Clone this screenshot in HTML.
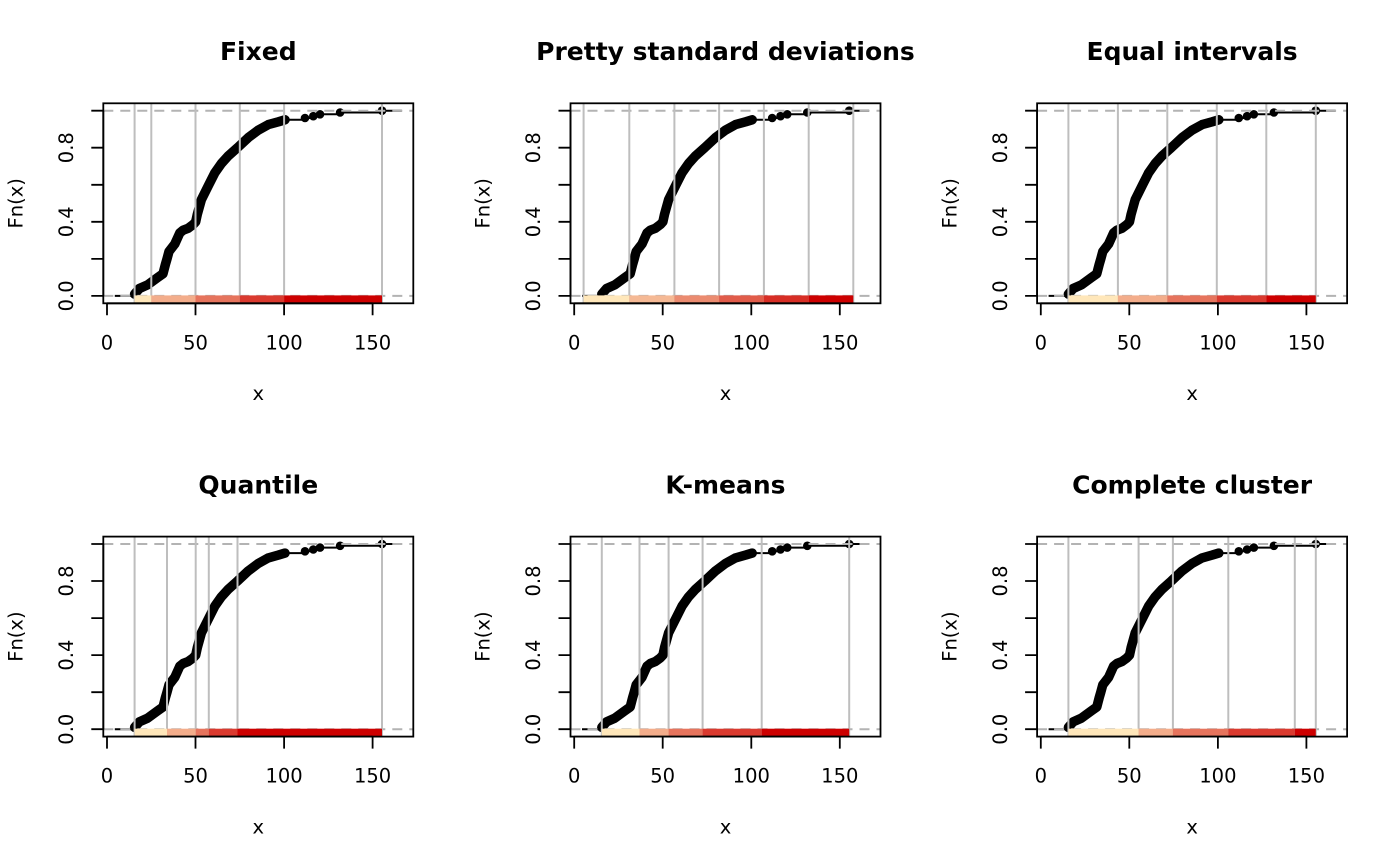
<!DOCTYPE html>
<html>
<head>
<meta charset="utf-8">
<style>
html,body{margin:0;padding:0;background:#fff;}
svg{display:block;}
text{font-family:"DejaVu Sans","Liberation Sans",sans-serif;fill:#000;}
.t{font-weight:bold;font-size:25px;}
.l{font-size:19.5px;}
</style>
</head>
<body>
<svg width="1400" height="866" viewBox="0 0 1400 866">
<rect x="0" y="0" width="1400" height="866" fill="#fff"/>
<defs>
<g id="curve">
  <path d="M114.8 295.9H134.6" stroke="#000" stroke-width="2" fill="none"/>
  <polyline points="134.6,294.1 139.4,288.5 147.7,284.8 157.8,277.4 163.0,273.7 165.4,264.4 167.0,258.9 169.0,251.5 174.8,244.0 179.8,232.9 183.1,230.2 188.1,228.3 193.1,224.6 195.7,221.8 197.3,214.4 201.4,199.6 208.8,184.8 214.9,172.7 221.4,163.5 228.1,156.1 237.5,147.7 248.3,137.6 258.2,130.2 268.3,124.6 278.4,121.8 285.0,119.8" stroke="#000" stroke-width="9.5" stroke-linejoin="round" stroke-linecap="round" fill="none"/>
  <path d="M285 119.8H305M305 118H313.3M313.3 116.2H320M320 114.3H340.1M340.1 112.5H382M382 110.7H401.8" stroke="#000" stroke-width="2" fill="none"/>
  <g fill="#000">
    <circle cx="134.6" cy="294.1" r="4.3"/>
    <circle cx="305" cy="118" r="4.3"/>
    <circle cx="313.3" cy="116.2" r="4.3"/>
    <circle cx="320" cy="114.3" r="4.3"/>
    <circle cx="340.1" cy="112.5" r="4.3"/>
    <circle cx="382" cy="110.7" r="4.3"/>
  </g>
</g>
<g id="dash">
  <path d="M103.3 295.9H413.3M103.3 110.7H413.3" stroke="#B3B3B3" stroke-width="2" stroke-dasharray="10 7" fill="none"/>
</g>
<g id="ax">
  <rect x="103.3" y="103.3" width="310" height="200" fill="none" stroke="#000" stroke-width="1.8"/>
  <path d="M107 303.3H372.6M107 303.3V315.3M195.5 303.3V315.3M284.1 303.3V315.3M372.6 303.3V315.3M103.3 295.9V110.7M103.3 295.9H91.3M103.3 258.9H91.3M103.3 221.8H91.3M103.3 184.8H91.3M103.3 147.7H91.3M103.3 110.7H91.3" stroke="#000" stroke-width="1.8" fill="none"/>
</g>
</defs>

<!-- Panel 1: Fixed -->
<g transform="translate(0,0)">
  <use href="#curve"/>
  <use href="#dash"/>
  <path d="M134.6 103.3V303.3M151.3 103.3V303.3M195.5 103.3V303.3M239.8 103.3V303.3M284.1 103.3V303.3M382 103.3V303.3" stroke="#BEBEBE" stroke-width="2" fill="none"/>
  <rect x="134.6" y="295.4" width="16.7" height="8" fill="#FFE7BA"/>
  <rect x="151.3" y="295.4" width="44.2" height="8" fill="#F3AD8B"/>
  <rect x="195.5" y="295.4" width="44.3" height="8" fill="#E6745D"/>
  <rect x="239.8" y="295.4" width="44.3" height="8" fill="#DA3A2F"/>
  <rect x="284.1" y="295.4" width="97.9" height="8" fill="#CD0000"/>
  <use href="#ax"/>
  <text class="t" x="258.3" y="60" text-anchor="middle">Fixed</text>
  <text class="l" x="107" y="349.3" text-anchor="middle">0</text>
  <text class="l" x="195.5" y="349.3" text-anchor="middle">50</text>
  <text class="l" x="284.1" y="349.3" text-anchor="middle">100</text>
  <text class="l" x="372.6" y="349.3" text-anchor="middle">150</text>
  <text class="l" x="258.3" y="400" text-anchor="middle">x</text>
  <text class="l" transform="translate(73,295.9) rotate(-90)" text-anchor="middle">0.0</text>
  <text class="l" transform="translate(73,221.8) rotate(-90)" text-anchor="middle">0.4</text>
  <text class="l" transform="translate(73,147.7) rotate(-90)" text-anchor="middle">0.8</text>
  <text class="l" transform="translate(22.5,203.3) rotate(-90)" text-anchor="middle">Fn(x)</text>
</g>

<!-- Panel 2: Pretty standard deviations -->
<g transform="translate(467.2,0)">
  <use href="#curve"/>
  <use href="#dash"/>
  <path d="M116.4 103.3V303.3M162.1 103.3V303.3M207.2 103.3V303.3M251.9 103.3V303.3M296.7 103.3V303.3M341.5 103.3V303.3M386.1 103.3V303.3" stroke="#BEBEBE" stroke-width="2" fill="none"/>
  <rect x="116.4" y="295.4" width="45.7" height="8" fill="#FFE7BA"/>
  <rect x="162.1" y="295.4" width="45.1" height="8" fill="#F5B995"/>
  <rect x="207.2" y="295.4" width="44.7" height="8" fill="#EB8B70"/>
  <rect x="251.9" y="295.4" width="44.8" height="8" fill="#E15C4A"/>
  <rect x="296.7" y="295.4" width="44.8" height="8" fill="#D72E25"/>
  <rect x="341.5" y="295.4" width="44.6" height="8" fill="#CD0000"/>
  <use href="#ax"/>
  <text class="t" x="258.3" y="60" text-anchor="middle">Pretty standard deviations</text>
  <text class="l" x="107" y="349.3" text-anchor="middle">0</text>
  <text class="l" x="195.5" y="349.3" text-anchor="middle">50</text>
  <text class="l" x="284.1" y="349.3" text-anchor="middle">100</text>
  <text class="l" x="372.6" y="349.3" text-anchor="middle">150</text>
  <text class="l" x="258.3" y="400" text-anchor="middle">x</text>
  <text class="l" transform="translate(73,295.9) rotate(-90)" text-anchor="middle">0.0</text>
  <text class="l" transform="translate(73,221.8) rotate(-90)" text-anchor="middle">0.4</text>
  <text class="l" transform="translate(73,147.7) rotate(-90)" text-anchor="middle">0.8</text>
  <text class="l" transform="translate(22.5,203.3) rotate(-90)" text-anchor="middle">Fn(x)</text>
</g>

<!-- Panel 3: Equal intervals -->
<g transform="translate(933.8,0)">
  <use href="#curve"/>
  <use href="#dash"/>
  <path d="M134.6 103.3V303.3M184.1 103.3V303.3M233.5 103.3V303.3M283 103.3V303.3M332.5 103.3V303.3M382 103.3V303.3" stroke="#BEBEBE" stroke-width="2" fill="none"/>
  <rect x="134.6" y="295.4" width="49.5" height="8" fill="#FFE7BA"/>
  <rect x="184.1" y="295.4" width="49.4" height="8" fill="#F3AD8B"/>
  <rect x="233.5" y="295.4" width="49.5" height="8" fill="#E6745D"/>
  <rect x="283" y="295.4" width="49.5" height="8" fill="#DA3A2F"/>
  <rect x="332.5" y="295.4" width="49.5" height="8" fill="#CD0000"/>
  <use href="#ax"/>
  <text class="t" x="258.3" y="60" text-anchor="middle">Equal intervals</text>
  <text class="l" x="107" y="349.3" text-anchor="middle">0</text>
  <text class="l" x="195.5" y="349.3" text-anchor="middle">50</text>
  <text class="l" x="284.1" y="349.3" text-anchor="middle">100</text>
  <text class="l" x="372.6" y="349.3" text-anchor="middle">150</text>
  <text class="l" x="258.3" y="400" text-anchor="middle">x</text>
  <text class="l" transform="translate(73,295.9) rotate(-90)" text-anchor="middle">0.0</text>
  <text class="l" transform="translate(73,221.8) rotate(-90)" text-anchor="middle">0.4</text>
  <text class="l" transform="translate(73,147.7) rotate(-90)" text-anchor="middle">0.8</text>
  <text class="l" transform="translate(22.5,203.3) rotate(-90)" text-anchor="middle">Fn(x)</text>
</g>

<!-- Panel 4: Quantile -->
<g transform="translate(0,433.3)">
  <use href="#curve"/>
  <use href="#dash"/>
  <path d="M134.6 103.3V303.3M167 103.3V303.3M195.7 103.3V303.3M208.8 103.3V303.3M237.5 103.3V303.3M382 103.3V303.3" stroke="#BEBEBE" stroke-width="2" fill="none"/>
  <rect x="134.6" y="295.4" width="32.4" height="8" fill="#FFE7BA"/>
  <rect x="167" y="295.4" width="28.7" height="8" fill="#F3AD8B"/>
  <rect x="195.7" y="295.4" width="13.1" height="8" fill="#E6745D"/>
  <rect x="208.8" y="295.4" width="28.7" height="8" fill="#DA3A2F"/>
  <rect x="237.5" y="295.4" width="144.5" height="8" fill="#CD0000"/>
  <use href="#ax"/>
  <text class="t" x="258.3" y="60" text-anchor="middle">Quantile</text>
  <text class="l" x="107" y="349.3" text-anchor="middle">0</text>
  <text class="l" x="195.5" y="349.3" text-anchor="middle">50</text>
  <text class="l" x="284.1" y="349.3" text-anchor="middle">100</text>
  <text class="l" x="372.6" y="349.3" text-anchor="middle">150</text>
  <text class="l" x="258.3" y="400" text-anchor="middle">x</text>
  <text class="l" transform="translate(73,295.9) rotate(-90)" text-anchor="middle">0.0</text>
  <text class="l" transform="translate(73,221.8) rotate(-90)" text-anchor="middle">0.4</text>
  <text class="l" transform="translate(73,147.7) rotate(-90)" text-anchor="middle">0.8</text>
  <text class="l" transform="translate(22.5,203.3) rotate(-90)" text-anchor="middle">Fn(x)</text>
</g>

<!-- Panel 5: K-means -->
<g transform="translate(467.2,433.3)">
  <use href="#curve"/>
  <use href="#dash"/>
  <path d="M134.6 103.3V303.3M172.3 103.3V303.3M201.4 103.3V303.3M235.4 103.3V303.3M294.5 103.3V303.3M382 103.3V303.3" stroke="#BEBEBE" stroke-width="2" fill="none"/>
  <rect x="134.6" y="295.4" width="37.7" height="8" fill="#FFE7BA"/>
  <rect x="172.3" y="295.4" width="29.1" height="8" fill="#F3AD8B"/>
  <rect x="201.4" y="295.4" width="34" height="8" fill="#E6745D"/>
  <rect x="235.4" y="295.4" width="59.1" height="8" fill="#DA3A2F"/>
  <rect x="294.5" y="295.4" width="87.5" height="8" fill="#CD0000"/>
  <use href="#ax"/>
  <text class="t" x="258.3" y="60" text-anchor="middle">K-means</text>
  <text class="l" x="107" y="349.3" text-anchor="middle">0</text>
  <text class="l" x="195.5" y="349.3" text-anchor="middle">50</text>
  <text class="l" x="284.1" y="349.3" text-anchor="middle">100</text>
  <text class="l" x="372.6" y="349.3" text-anchor="middle">150</text>
  <text class="l" x="258.3" y="400" text-anchor="middle">x</text>
  <text class="l" transform="translate(73,295.9) rotate(-90)" text-anchor="middle">0.0</text>
  <text class="l" transform="translate(73,221.8) rotate(-90)" text-anchor="middle">0.4</text>
  <text class="l" transform="translate(73,147.7) rotate(-90)" text-anchor="middle">0.8</text>
  <text class="l" transform="translate(22.5,203.3) rotate(-90)" text-anchor="middle">Fn(x)</text>
</g>

<!-- Panel 6: Complete cluster -->
<g transform="translate(933.8,433.3)">
  <use href="#curve"/>
  <use href="#dash"/>
  <path d="M134.6 103.3V303.3M204.8 103.3V303.3M239.1 103.3V303.3M294.5 103.3V303.3M361 103.3V303.3M382 103.3V303.3" stroke="#BEBEBE" stroke-width="2" fill="none"/>
  <rect x="134.6" y="295.4" width="70.2" height="8" fill="#FFE7BA"/>
  <rect x="204.8" y="295.4" width="34.3" height="8" fill="#F3AD8B"/>
  <rect x="239.1" y="295.4" width="55.4" height="8" fill="#E6745D"/>
  <rect x="294.5" y="295.4" width="66.5" height="8" fill="#DA3A2F"/>
  <rect x="361" y="295.4" width="21" height="8" fill="#CD0000"/>
  <use href="#ax"/>
  <text class="t" x="258.3" y="60" text-anchor="middle">Complete cluster</text>
  <text class="l" x="107" y="349.3" text-anchor="middle">0</text>
  <text class="l" x="195.5" y="349.3" text-anchor="middle">50</text>
  <text class="l" x="284.1" y="349.3" text-anchor="middle">100</text>
  <text class="l" x="372.6" y="349.3" text-anchor="middle">150</text>
  <text class="l" x="258.3" y="400" text-anchor="middle">x</text>
  <text class="l" transform="translate(73,295.9) rotate(-90)" text-anchor="middle">0.0</text>
  <text class="l" transform="translate(73,221.8) rotate(-90)" text-anchor="middle">0.4</text>
  <text class="l" transform="translate(73,147.7) rotate(-90)" text-anchor="middle">0.8</text>
  <text class="l" transform="translate(22.5,203.3) rotate(-90)" text-anchor="middle">Fn(x)</text>
</g>
</svg>
</body>
</html>
